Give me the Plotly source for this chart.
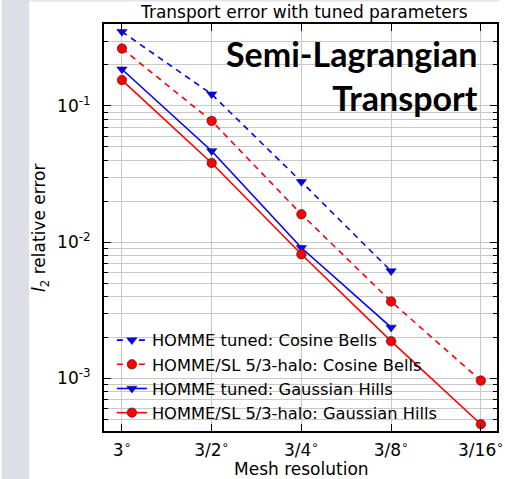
import plotly.graph_objects as go

categories = ["3<sup>∘</sup>", "3/2<sup>∘</sup>", "3/4<sup>∘</sup>", "3/8<sup>∘</sup>", "3/16<sup>∘</sup>"]
x_pos = [0, 1, 2, 3, 4]

tuned_cosine = [0.351, 0.122, 0.0277, 0.00612]
sl_cosine = [0.264, 0.0776, 0.0160, 0.00366, 0.00096]
tuned_gauss = [0.186, 0.0467, 0.00908, 0.00236]
sl_gauss = [0.155, 0.0381, 0.00813, 0.00187, 0.000459]

names = [
    "HOMME tuned: Cosine Bells",
    "HOMME/SL 5/3-halo: Cosine Bells",
    "HOMME tuned: Gaussian Hills",
    "HOMME/SL 5/3-halo: Gaussian Hills",
]

ytick_vals = [1e-3, 1e-2, 1e-1]
ytick_text = ["10<sup>-3</sup>", "10<sup>-2</sup>", "10<sup>-1</sup>"]
minor_vals = [m * d for d in [1e-4, 1e-3, 1e-2, 1e-1] for m in range(2, 10)]

BLUE = "#0000ff"
RED = "#ff0000"

fig = go.Figure()

def add(y, name, color, dash, symbol, size):
    fig.add_trace(go.Scatter(
        x=x_pos[:len(y)], y=y, name=name, mode="lines+markers",
        line=dict(color=color, width=1.6, dash=dash),
        marker=dict(symbol=symbol, size=size, color=color,
                    line=dict(color="#202020", width=0.6)),
    ))

add(tuned_cosine, names[0], BLUE, "6px,5px", "triangle-down", 9)
add(sl_cosine, names[1], RED, "6px,5px", "circle", 9.5)
add(tuned_gauss, names[2], BLUE, "solid", "triangle-down", 9)
add(sl_gauss, names[3], RED, "solid", "circle", 9.5)

W, H = 505, 479
L, R, T, B = 104, 2, 24, 48
pw = W - L - R
ph = H - T - B

def px2paper_x(px):
    return (px - L) / pw

def px2paper_y(py):
    return (H - B - py) / ph

fig.update_layout(
    width=W, height=H,
    margin=dict(l=L, r=R, t=T, b=B, pad=0),
    paper_bgcolor="white", plot_bgcolor="white",
    font=dict(family="DejaVu Sans", color="black"),
    showlegend=True,
    legend=dict(
        x=px2paper_x(112), y=px2paper_y(323), xanchor="left", yanchor="top",
        bgcolor="rgba(0,0,0,0)", borderwidth=0,
        font=dict(size=16.3, family="DejaVu Sans"),
        tracegroupgap=0,
    ),
    xaxis=dict(
        range=[-0.2, 4.18], tickmode="array", tickvals=x_pos, ticktext=categories,
        showgrid=True, gridcolor="#c8c8c8", gridwidth=1,
        ticks="inside", ticklen=7, tickcolor="black", tickwidth=1,
        showline=True, linecolor="black", linewidth=2, mirror="allticks",
        tickfont=dict(size=17, family="DejaVu Sans"), zeroline=False,
        ticklabelstandoff=3, ticklabeloverflow="allow",
    ),
    yaxis=dict(
        type="log", range=[-3.388, -0.398],
        tickmode="array", tickvals=ytick_vals, ticktext=ytick_text,
        showgrid=True, gridcolor="#c8c8c8", gridwidth=1,
        ticks="inside", ticklen=7, tickcolor="black", tickwidth=1,
        showline=True, linecolor="black", linewidth=2, mirror="allticks",
        tickfont=dict(size=17, family="DejaVu Sans"), zeroline=False,
        ticklabelstandoff=8, ticklabeloverflow="allow",
        minor=dict(tickmode="array", tickvals=minor_vals, ticks="inside", ticklen=4,
                   tickcolor="black", showgrid=True, gridcolor="#c8c8c8", gridwidth=1),
    ),
    shapes=[
        dict(type="rect", xref="paper", yref="paper",
             x0=px2paper_x(0), x1=px2paper_x(28), y0=px2paper_y(H), y1=px2paper_y(0),
             fillcolor="#dddee6", line=dict(width=0), layer="below"),
        dict(type="rect", xref="paper", yref="paper",
             x0=px2paper_x(28), x1=px2paper_x(W), y0=px2paper_y(1.5), y1=px2paper_y(0),
             fillcolor="#e4e4ea", line=dict(width=0), layer="below"),
    ],
    annotations=[
        dict(text="Transport error with tuned parameters", xref="paper", yref="paper",
             x=px2paper_x(307), y=px2paper_y(12), xanchor="center", yanchor="middle",
             showarrow=False, font=dict(size=17, family="DejaVu Sans")),
        dict(text="<b>Semi-Lagrangian</b><br><b>Transport</b>", xref="paper", yref="paper",
             x=px2paper_x(486), y=px2paper_y(31), xanchor="right", yanchor="top",
             align="right", showarrow=False,
             font=dict(size=34, family="Lato", color="black")),
        dict(text="<i>l</i><sub>2</sub> relative error", xref="paper", yref="paper",
             x=px2paper_x(40), y=px2paper_y(228), xanchor="center", yanchor="middle",
             textangle=-90, showarrow=False, font=dict(size=17, family="DejaVu Sans")),
        dict(text="Mesh resolution", xref="paper", yref="paper",
             x=px2paper_x(305), y=px2paper_y(469), xanchor="center", yanchor="middle",
             showarrow=False, font=dict(size=17, family="DejaVu Sans")),
    ],
)

fig.write_html("out.html")
